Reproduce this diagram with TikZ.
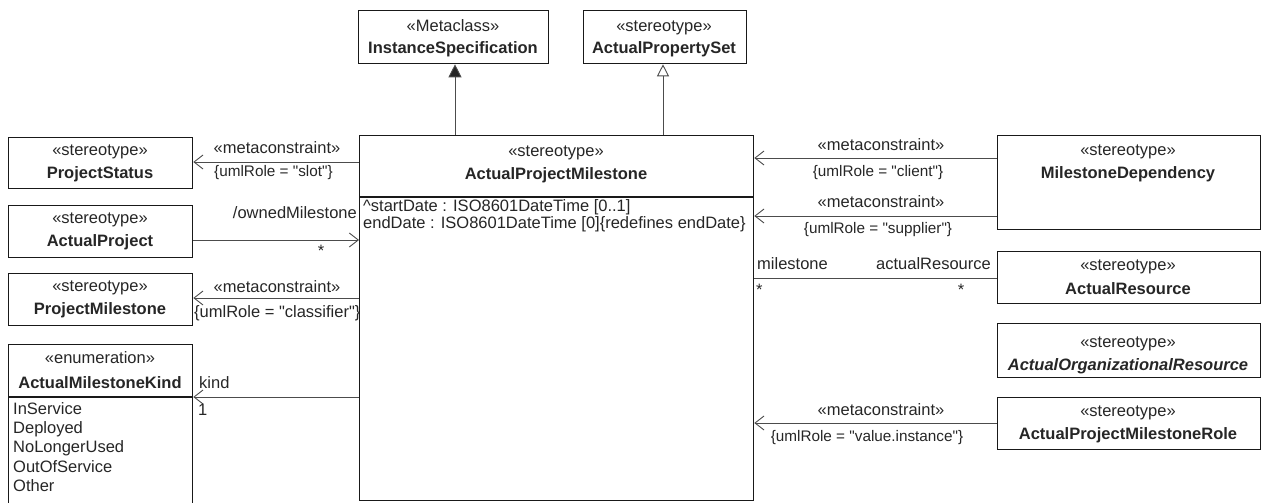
\documentclass[tikz,border=0pt]{standalone}
\usepackage{fontspec}
\setmainfont[Ligatures=NoCommon]{Liberation Sans}
\usetikzlibrary{arrows.meta}
\newcommand{\qq}{\textquotedbl}
\begin{document}
\begin{tikzpicture}[x=1pt,y=-1pt,
  box/.style={draw=black!90, line width=1.3pt, fill=white, inner sep=0pt, anchor=north west},
  txt/.style={inner sep=0pt, anchor=base, text=black!85, font=\fontsize{16.5}{19}\selectfont},
  txtl/.style={txt, anchor=base west},
  txtr/.style={txt, anchor=base east},
  role/.style={txt, font=\fontsize{15.3}{18}\selectfont},
  rolel/.style={role, anchor=base west},
  conn/.style={draw=black!70, line width=0.9pt},
  barb/.style={conn, -{Straight Barb[length=9pt,width=14pt,line width=0.9pt]}},
  gen/.style={conn, -{Triangle[length=13pt,width=13pt,fill=black!85]}},
  ext/.style={conn, -{Triangle[open,length=12pt,width=12pt,fill=white]}}
]
\useasboundingbox (0,0) rectangle (1286,503);

% boxes
\node[box, minimum width=190pt, minimum height=53pt] (is) at (358,10) {};
\node[box, minimum width=163pt, minimum height=53pt] (aps) at (583,10) {};
\node[box, minimum width=394pt, minimum height=365pt] (apm) at (359,135) {};
\node[box, minimum width=184pt, minimum height=51pt] (ps) at (8,137) {};
\node[box, minimum width=184pt, minimum height=52pt] (ap) at (8,205) {};
\node[box, minimum width=184pt, minimum height=52pt] (pm) at (8,273) {};
\node[box, minimum width=184pt, minimum height=170pt] (amk) at (8,344) {};
\node[box, minimum width=263pt, minimum height=94pt] (md) at (997,135) {};
\node[box, minimum width=263pt, minimum height=52pt] (ar) at (997,251) {};
\node[box, minimum width=263pt, minimum height=54pt] (aor) at (997,323) {};
\node[box, minimum width=263pt, minimum height=52pt] (apmr) at (997,397) {};

% compartments
\draw[draw=black!90, line width=1.3pt] (apm.west |- 0,197) -- (apm.east |- 0,197);
\draw[draw=black!90, line width=1.3pt] (amk.west |- 0,397) -- (amk.east |- 0,397);

% box texts
\node[txt] (t1) at (453,32) {«Metaclass»};
\node[txt] (t2) at (453,54) {\textbf{InstanceSpecification}};
\node[txt] (t3) at (664,32) {«stereotype»};
\node[txt] (t4) at (664,54) {\textbf{ActualPropertySet}};
\node[txt] (t5) at (556,156) {«stereotype»};
\node[txt] (t6) at (556,179) {\textbf{ActualProjectMilestone}};
\node[txtl] (t7) at (363,211) {\textasciicircum startDate : ISO8601DateTime [0..1]};
\node[txtl] (t8) at (363,228) {endDate : ISO8601DateTime [0]\{redefines endDate\}};
\node[txt] (t9) at (100,155) {«stereotype»};
\node[txt] (t10) at (100,178) {\textbf{ProjectStatus}};
\node[txt] (t11) at (100,223) {«stereotype»};
\node[txt] (t12) at (100,246) {\textbf{ActualProject}};
\node[txt] (t13) at (100,291) {«stereotype»};
\node[txt] (t14) at (100,314) {\textbf{ProjectMilestone}};
\node[txt] (t15) at (100,363) {«enumeration»};
\node[txt] (t16) at (100,388) {\textbf{ActualMilestoneKind}};
\node[txtl] (t17) at (13,414) {InService};
\node[txtl] (t18) at (13,433) {Deployed};
\node[txtl] (t19) at (13,452) {NoLongerUsed};
\node[txtl] (t20) at (13,472) {OutOfService};
\node[txtl] (t21) at (13,491) {Other};
\node[txt] (t22) at (1128,155) {«stereotype»};
\node[txt] (t23) at (1128,178) {\textbf{MilestoneDependency}};
\node[txt] (t24) at (1128,270) {«stereotype»};
\node[txt] (t25) at (1128,294) {\textbf{ActualResource}};
\node[txt] (t26) at (1128,347) {«stereotype»};
\node[txt] (t27) at (1128,370) {\textbf{\itshape ActualOrganizationalResource}};
\node[txt] (t28) at (1128,416) {«stereotype»};
\node[txt] (t29) at (1128,439) {\textbf{ActualProjectMilestoneRole}};

% connector end coordinates
\coordinate (apmTop1) at (455,135);
\coordinate (apmTop2) at (663,135);

% generalization / extension
\draw[gen] (apmTop1) -- (apmTop1 |- is.south);
\draw[ext] (apmTop2) -- (apmTop2 |- aps.south);

% left connectors
\draw[barb] (apm.west |- 0,162) -- (ps.east |- 0,162);
\node[txt] (l1) at (277,153) {«metaconstraint»};
\node[rolel] (l2) at (214,176) {\{umlRole = \qq slot\qq\}};

\draw[barb] (ap.east |- 0,240) -- (apm.west |- 0,240);
\node[txtr] (l3) at (357,218) {/ownedMilestone};
\node[txt] (l4) at (321,256) {*};

\draw[barb] (apm.west |- 0,298) -- (pm.east |- 0,298);
\node[txt] (l5) at (277,292) {«metaconstraint»};
\node[txtl] (l6) at (194,317) {\{umlRole = \qq classifier\qq\}};

\draw[barb] (apm.west |- 0,397) -- (amk.east |- 0,397);
\node[txtl] (l7) at (199,388) {kind};
\node[txtl] (l8) at (198,415) {1};

% right connectors
\draw[barb] (md.west |- 0,158) -- (apm.east |- 0,158);
\node[txt] (r1) at (881,150) {«metaconstraint»};
\node[role] (r2) at (878,176) {\{umlRole = \qq client\qq\}};

\draw[barb] (md.west |- 0,216) -- (apm.east |- 0,216);
\node[txt] (r3) at (881,207) {«metaconstraint»};
\node[role] (r4) at (878,233) {\{umlRole = \qq supplier\qq\}};

\draw[conn] (apm.east |- 0,278) -- (ar.west |- 0,278);
\node[txtl] (r5) at (757,269) {milestone};
\node[txtr] (r6) at (991,269) {actualResource};
\node[txtl] (r7) at (756,295) {*};
\node[txt] (r8) at (961,295) {*};

\draw[barb] (apmr.west |- 0,423) -- (apm.east |- 0,423);
\node[txt] (r9) at (881,415) {«metaconstraint»};
\node[role] (r10) at (867,441) {\{umlRole = \qq value.instance\qq\}};
\end{tikzpicture}
\end{document}
